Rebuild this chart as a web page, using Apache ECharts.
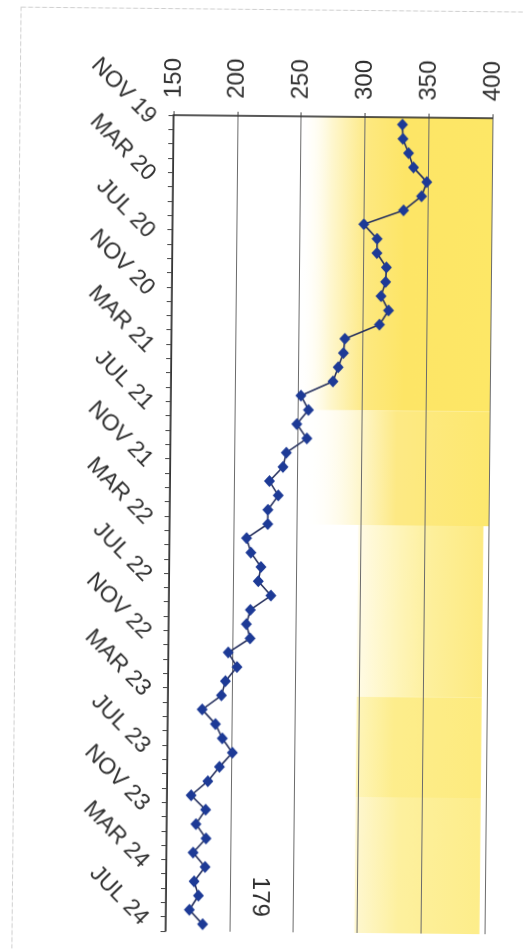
<!DOCTYPE html>
<html>
<head>
<meta charset="utf-8">
<script src="https://cdn.jsdelivr.net/npm/echarts@6/dist/echarts.min.js"></script>
<style>
  html, body { margin: 0; padding: 0; background: #fff; overflow: hidden; }
  #wrap { position: absolute; left: 0; top: 0; width: 523px; height: 951px; transform: rotate(0.56deg); transform-origin: 50% 50%; }
  #chart { width: 523px; height: 951px; }
</style>
</head>
<body>
<div id="wrap"><div id="chart"></div></div>
<script>
// Monthly readings, Nov 2019 – Jul 2024 (one point per month)
const months = [
  'NOV 19','DEC 19',
  'JAN 20','FEB 20','MAR 20','APR 20','MAY 20','JUN 20','JUL 20','AUG 20','SEP 20','OCT 20','NOV 20','DEC 20',
  'JAN 21','FEB 21','MAR 21','APR 21','MAY 21','JUN 21','JUL 21','AUG 21','SEP 21','OCT 21','NOV 21','DEC 21',
  'JAN 22','FEB 22','MAR 22','APR 22','MAY 22','JUN 22','JUL 22','AUG 22','SEP 22','OCT 22','NOV 22','DEC 22',
  'JAN 23','FEB 23','MAR 23','APR 23','MAY 23','JUN 23','JUL 23','AUG 23','SEP 23','OCT 23','NOV 23','DEC 23',
  'JAN 24','FEB 24','MAR 24','APR 24','MAY 24','JUN 24','JUL 24'
];

const values = [
  329.5, 330, 334.5, 338.5, 349, 345, 331, 300, 310.5, 310.5,
  318, 317.5, 314, 320, 313, 286, 285, 281, 277, 252,
  258, 249, 257, 241, 238.5, 228, 235, 227, 227, 210.5,
  214, 222, 220, 230, 214, 211, 214, 197, 204, 195,
  192, 177, 187.5, 193, 201, 191, 182, 169, 180.5, 173,
  181, 171, 180.5, 172, 175.5, 168.5, 179
];

const valueTicks = [150, 200, 250, 300, 350, 400];

const FONT = 'Liberation Sans, Arial, sans-serif';
const lastIdx = values.length - 1;

// the latest reading carries its own value label
const lineData = values.map((v, i) => i === lastIdx ? {
  value: v,
  label: {
    show: true,
    position: [62, -22],
    align: 'center',
    verticalAlign: 'middle',
    rotate: -90,
    fontFamily: FONT,
    fontSize: 24,
    color: '#2e2e2e',
    formatter: p => String(p.value)
  }
} : v);

const hGrad = stops => new echarts.graphic.LinearGradient(0, 0, 1, 0,
  stops.map(s => ({ offset: s[0], color: s[1] })));

const chart = echarts.init(document.getElementById('chart'), null, { renderer: 'canvas' });

chart.setOption({
  animation: false,
  backgroundColor: '#fff',
  graphic: [{
    type: 'rect',
    shape: { x: 16.5, y: 9.5, width: 540, height: 960 },
    style: { fill: 'none', stroke: '#cfcfcf', lineWidth: 1, lineDash: [5, 2] },
    silent: true,
    z: -10
  }],
  grid: { left: 170, right: 34, top: 116, bottom: 19, containLabel: false },
  xAxis: {
    type: 'value',
    position: 'top',
    min: valueTicks[0],
    max: valueTicks[valueTicks.length - 1],
    interval: valueTicks[1] - valueTicks[0],
    z: 5,
    axisLine: { show: true, onZero: false, lineStyle: { color: '#222', width: 1.5 } },
    axisTick: { show: true, length: 4, lineStyle: { color: '#444' } },
    axisLabel: {
      rotate: -90,
      margin: 17,
      fontFamily: FONT,
      fontSize: 24,
      color: '#303030'
    },
    splitLine: { show: true, lineStyle: { color: '#6b6b6b', width: 1 } }
  },
  yAxis: {
    type: 'category',
    inverse: true,
    data: months,
    boundaryGap: true,
    z: 6,
    axisLine: { show: true, lineStyle: { color: '#222', width: 1.5 } },
    axisTick: { show: true, interval: 0, length: 5, lineStyle: { color: '#444' } },
    axisLabel: {
      interval: 3,
      rotate: -45,
      margin: 19,
      padding: [0, 3, 7, 0],
      fontFamily: FONT,
      fontSize: 23,
      color: '#303030'
    },
    splitLine: { show: false }
  },
  series: [
    {
      // yellow shading behind the plot
      type: 'line',
      data: [],
      z: 0,
      silent: true,
      markArea: {
        silent: true,
        z: -1,
        label: { show: false },
        data: [
          [
            { xAxis: 250, itemStyle: { color: hGrad([[0, 'rgba(255,255,255,0)'], [0.16, '#fef7d0'], [0.36, '#fde87e'], [0.55, '#fde566'], [1, '#fde766']]) } },
            { xAxis: 400, yAxis: 19.5 }
          ],
          [
            { xAxis: 255, yAxis: 19.5, itemStyle: { color: hGrad([[0, 'rgba(255,255,255,0)'], [0.3, '#fef6cc'], [0.5, '#fde984'], [1, '#fde86e']]) } },
            { xAxis: 400, yAxis: 27.5 }
          ],
          [
            { xAxis: 298, yAxis: 27.5, itemStyle: { color: hGrad([[0, '#fffbe6'], [0.35, '#fef4b6'], [0.6, '#fdef9a'], [1, '#fdea80']]) } },
            { xAxis: 396, yAxis: 40 }
          ],
          [
            { xAxis: 298, yAxis: 40, itemStyle: { color: hGrad([[0, '#fef5ba'], [0.3, '#fded8c'], [1, '#fdeb7e']]) } },
            { xAxis: 396, yAxis: 46.6 }
          ],
          [
            { xAxis: 298, yAxis: 46.6, itemStyle: { color: hGrad([[0, '#fffbea'], [0.4, '#fef6cc'], [1, '#fdf0a4']]) } },
            { xAxis: 396, yAxis: 47.1 }
          ],
          [
            { xAxis: 298, yAxis: 47.1, itemStyle: { color: hGrad([[0, '#fef7d0'], [0.35, '#fdf09e'], [1, '#fded8a']]) } },
            { xAxis: 396 }
          ]
        ]
      }
    },
    {
      type: 'line',
      data: lineData,
      z: 7,
      showAllSymbol: true,
      symbol: 'diamond',
      symbolSize: [11, 12],
      lineStyle: { color: '#27315e', width: 1.6 },
      itemStyle: { color: '#1d3a96' }
    }
  ]
});
</script>
</body>
</html>
